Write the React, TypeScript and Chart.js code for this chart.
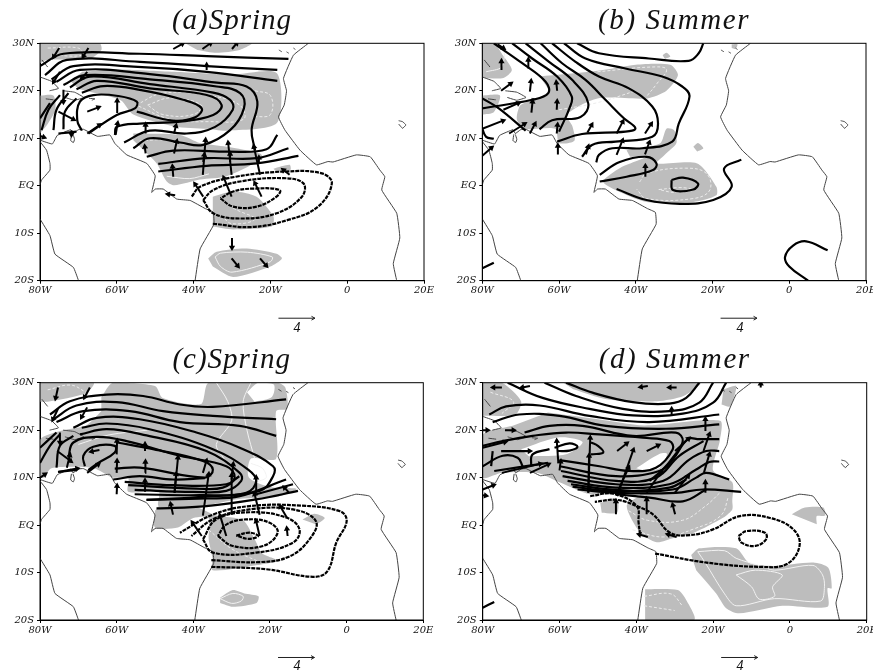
import React, { useEffect, useRef } from "react";
import { Chart, registerables } from "chart.js";
Chart.register(...registerables);

type P = [number, number];
type A = [number, number, number, number];

const xTickLabels: Record<number, string> = { "-80": "80W", "-60": "60W", "-40": "40W", "-20": "20W", 0: "0", 20: "20E" };
const yTickLabels: Record<number, string> = { 30: "30N", 20: "20N", 10: "10N", 0: "EQ", "-10": "10S", "-20": "20S" };

const coastlines: P[][] = [
  [[-80,-7],[-77.4,-10.5],[-76.1,-14.4],[-71.3,-17.2],[-70,-19.9],[-70,-20]],
  [[-80,9.3],[-78.3,7.5],[-77.4,4.7],[-77.4,3.3],[-79.6,1.2],[-80,0.2]],
  [[-80,9.6],[-76.8,8.8],[-75.5,10.6],[-72,11.8],[-71.4,11],[-70,11.8],[-68.7,11.9],[-65,10.4],[-61.8,10.7],[-60.5,8.9],[-57.4,6.5],[-52.2,4.7],[-50,2.1],[-50.9,-1.4],[-50,-0.7],[-47.9,-0.7],[-44.4,-2.8],[-40.9,-3.1],[-37,-4.8],[-34.9,-5.6],[-34.7,-8.1],[-38.3,-13.3],[-39.6,-19.9],[-39.7,-20]],
  [[-71.8,10.8],[-72,9.5],[-71.3,9.1],[-71,9.8],[-71.4,10.8]],
  [[-10.1,30],[-14,27.5],[-16.6,22.6],[-15.8,20],[-16.4,17],[-17.9,14.5],[-16.2,11.7],[-12.3,7.5],[-8,4.4],[-5,5.1],[-3.7,5],[2.4,6.5],[6,6.1],[8.5,3.3],[9.8,1.9],[9,-0.9],[12.9,-5.8],[13.7,-11],[12,-16.4],[12.9,-20]],
  [[13.4,13.7],[14.4,13.5],[15.3,12.8],[14.4,12.1],[13.4,13]],
  [[-80,22.9],[-77,22],[-75.2,20.5],[-77.5,20]],
  [[-74,20],[-71,19.7],[-68.6,18.6],[-71,18],[-73.5,18.6]],
  [[-67.2,18.4],[-65.7,18.3],[-66.5,18]],
  [[-78.5,18.3],[-76.5,18.1]],
  [[-79.5,26.5],[-78,25]],
  [[-17.8,28.6],[-17,28.2]],[[-15.8,28.2],[-15.2,27.9]],[[-14,29],[-13.5,28.7]],
];

const refArrow: A = [-17.9, -27.9, -8.4, -27.9];
const refArrowHead: P[] = [[-9.3, -27.5], [-8.4, -27.9], [-9.3, -28.3]];

/* ---------- panel a ---------- */
const aSolid: P[][] = [
  [[-80,25.2],[-73.9,27.8],[-54,27.8],[-36.6,27.3],[-15.3,26.7]],
  [[-78.7,23.3],[-73,26.5],[-54,26.1],[-36.6,25.2],[-18.2,24.4]],
  [[-77,22.4],[-71.3,25.2],[-55.7,25.1],[-36.6,24],[-18.2,22.1]],
  [[-75.7,21.9],[-69.6,24.4],[-51.4,23.5],[-34,21.7],[-26.2,20.9],[-23.4,17.7],[-24.9,11.7],[-24,7.5]],
  [[-73.9,21.2],[-68.3,23.3],[-51.4,22.4],[-34,20.9],[-27.9,19.5],[-26.9,16.3],[-30.5,11.7],[-37.5,8.6],[-43.5,9.1],[-51.4,10],[-55.7,7.9]],
  [[-72.2,20.7],[-67,23],[-51.4,21.4],[-34.9,19.6],[-30.5,18.1],[-29.8,16],[-34.4,12.4],[-41.8,11],[-51.4,11.6],[-58.1,9.1]],
  [[-70.5,20.3],[-65.2,22.1],[-51.4,20.5],[-36.6,19.1],[-32.7,17],[-34.9,14.9],[-43.5,13.5],[-54,13.1],[-60,12.4],[-60.5,10.7]],
  [[-69.1,19.6],[-63.5,21],[-54,20.2],[-42.7,18.1],[-37.9,16.3],[-39.6,14.4],[-45.3,13.7],[-54.8,15.6]],
  [[-67.4,11],[-60,14.9],[-55.3,16.3],[-54.8,17.7],[-59.6,18.9],[-66.1,19.1],[-69.6,17.7],[-70.3,13.8],[-69.1,11.6]],
  [[-79.6,11.7],[-77.8,16],[-74.8,19.1]],
  [[-80,14.2],[-77.4,17.4]],
  [[-76.5,11.7],[-75.7,16],[-72.6,19.5]],
  [[-73.9,11.9],[-73.5,15.6],[-70.5,18.4]],
  [[-75.2,11],[-70.5,11.4]],
  [[-52.2,6.1],[-45.3,7.4],[-31.4,7.2],[-21,7.7],[-18.2,10.7]],
  [[-49.2,4.6],[-36.6,5.8],[-23.6,5.8],[-15.3,7.9]],
  [[-49.2,3],[-36.6,4.2],[-23.6,4.7],[-12.7,6.3]],
];
const aDashed: P[][] = [
  [[-35,-8],[-25,-8.7],[-15.4,-7.2],[-7.6,-4.4],[-4,0.5],[-6.6,2.6],[-16,3],[-29,1.9],[-38.3,-0.2],[-40.5,-2.3]],
  [[-37.5,-3],[-34.9,-5.8],[-27.9,-6.9],[-18.4,-5.8],[-11.8,-2.3],[-11.4,0.5],[-16.6,1.6],[-27.9,0.9],[-34.9,-0.9],[-37.5,-3]],
  [[-33,-2.7],[-29.7,-4.4],[-23.6,-4.4],[-18.4,-2.3],[-17.6,-0.9],[-24.4,-0.6],[-29.7,-1.2],[-33,-2.7]],
];
const aShade: P[][] = [
  [[-80,30],[-64.5,30],[-64,28.6],[-67,26.8],[-78.3,26.5],[-80,25.8]],
  [[-42.2,30],[-24.9,30],[-28,28.6],[-34,28],[-39,28.6]],
  [[-69,24],[-60,24.5],[-45,24],[-30,23.4],[-18.3,23.7],[-18.3,13.2],[-31.4,11.6],[-36.6,12],[-45,12.5],[-55.7,15],[-59,18],[-68,20],[-70,20.5],[-72,22]],
  [[-80,19],[-76.5,19],[-76,16],[-78,13],[-80,11]],
  [[-55.7,11],[-43.5,10.7],[-38.3,9],[-31.4,8.2],[-22.7,6.8],[-22,5.8],[-31.4,2],[-38.3,1.3],[-45,0.1],[-47,0.9],[-49.6,4.7],[-53,7.5],[-55.7,9.6]],
  [[-19.2,3.6],[-15,4.4],[-14.8,3.3],[-18.5,3]],
  [[-35,-2.3],[-29.7,-1.2],[-23.6,-2.3],[-19.2,-6.5],[-19.7,-8.6],[-29.7,-9.2],[-35,-8.6]],
  [[-36.2,-15.3],[-34,-13.9],[-26.2,-13.2],[-18.4,-14.3],[-17,-15.3],[-20,-17],[-29.7,-19.2],[-35,-17]],
];
const aPale: P[][] = [
  [[-34.4,-15],[-33,-14.2],[-26,-14],[-19.5,-15],[-20,-16],[-30,-18.2],[-33,-17],[-34.4,-15]],
  [[-47,2],[-41,1.5],[-36,2.5]],
];
const aPaleDash: P[][] = [
  [[-55,17],[-48,19.5],[-36,19],[-28,17],[-27,14],[-36,13.5],[-46,14],[-55,17]],
  [[-52,17],[-46,18.5],[-38,17],[-40,15],[-48,15],[-52,17]],
  [[-24,20],[-20,19],[-20,15],[-24,14.5]],
  [[-78,29],[-70,29],[-69,27.5],[-77,27.5]],
  [[-54,9.5],[-46,9.5],[-44,8]],
  [[-33,-3],[-29,-5],[-24,-7],[-30,-8],[-33,-6]],
];
const aArrows: A[] = [
  [-45.3,28.8,-42.9,29.9],[-37.7,28.8,-35.6,30],[-30,28.8,-28.8,30],[-75,29,-76.4,27.2],[-67.4,29,-68.7,27.3],
  [-36.6,24.4,-36.6,25.4],[-74.8,24,-76.4,21.9],[-67.7,24,-69.1,22.6],[-73.9,20.2,-73.9,17.7],[-75.2,15.6,-71.3,14],
  [-67.7,15.6,-64.8,16.5],[-59.9,15.3,-59.9,17.9],[-67.7,11,-64.5,12.8],[-60.3,10.7,-59.8,13.1],[-52.5,11,-52.5,12.8],
  [-45.1,11,-44.6,12.6],[-45.1,6.8,-44.4,9.3],[-52.5,6.8,-52.7,8.2],[-37.6,2.3,-36.9,9.6],[-30.1,2.3,-31,9],
  [-22.7,2.3,-24.3,8.2],[-45.3,1.9,-45.5,4],[-37.5,-2.3,-39.6,0.3],[-30.1,-2.3,-32.1,1.6],[-22.3,-2.3,-24,0.5],
  [-15,2.3,-16.6,3.3],[-44.8,-2,-46.6,-1.8],[-30,-11,-30,-13],[-30.1,-15.3,-28.5,-16.9],[-22.7,-15.3,-21.1,-16.8],
  [-71.8,11.7,-71.8,10.8],[-80,10.5,-79,10.2],
  [-37.5,5,-37.2,6.5],[-30.5,5,-30.5,6.7],[-23,5,-23,5.9],
];

/* ---------- panel b ---------- */
const bSolid: P[][] = [
  [[-55.3,30],[-49.6,27.9],[-36.6,26.8],[-26.2,26.3],[-23.6,27.9],[-22.4,30]],
  [[-58.7,30],[-53.1,26.8],[-42.7,24.7],[-33.1,23],[-27.9,20.9],[-26,18.8],[-28.8,13.1],[-30.5,9.3],[-38.3,7.9],[-46.1,7.9],[-49.6,6.5],[-50.3,4.9]],
  [[-61.8,30],[-55.7,26.1],[-49.6,23],[-41.8,20.5],[-35.7,16.7],[-34.2,13.1],[-35.7,10.3],[-45.3,9.3],[-51.4,8.6],[-54,6.1]],
  [[-64.8,30],[-59.2,25.8],[-53.1,22.3],[-47.9,18.1],[-43.1,14.2],[-40.1,12.1],[-42.7,11.4],[-54,10.9],[-60.5,9.3]],
  [[-68.7,30],[-62.6,26.1],[-56.6,22.3],[-52.4,17.4],[-54.4,14.5],[-61.8,13.8],[-65.1,11.9]],
  [[-72.2,30],[-67,26.8],[-60.5,23],[-56.7,18.8],[-57.3,16.3],[-60,11.4]],
  [[-77,30],[-69.6,25.8],[-63.5,21.9],[-62.8,19.5],[-67,18.1],[-80,16.3]],
  [[-80,18.4],[-75.7,16.3],[-68.7,11.6]],
  [[-80,12],[-79,10.3],[-77,9.9]],
  [[-49.4,2.3],[-44.2,5],[-37.2,6.1],[-34.6,4.7],[-35.5,3.3],[-42.4,1.9],[-49.4,0.9]],
  [[-45,-0.7],[-37.2,-3],[-28.5,-3.8],[-19.8,-3],[-15,-0.2],[-17,3.6],[-12.5,5.5]],
  [[-30.7,1.2],[-27.7,1.7],[-23.8,0.5],[-25,-0.8],[-30.3,-0.9],[-30.7,1.2]],
  [[10,-13.6],[4.4,-11.7],[1,-12.6],[-1.1,-15],[0,-17],[4.9,-20]],
  [[-80,-17.4],[-77,-16.2]],
];
const bDashed: P[][] = [];
const bShade: P[][] = [
  [[-80,30],[-77,30],[-74.5,27.3],[-72.3,24.4],[-74.5,22.7],[-80,22.7]],
  [[-65,23],[-50,24.2],[-40,25.5],[-31,25.5],[-29,23.3],[-32,20],[-37,18.4],[-50,18.4],[-58,15],[-56.5,12.5],[-56,9.5],[-60,9],[-61,12],[-69,12],[-71,14],[-70,17],[-65,18.5],[-62.5,20]],
  [[-80,19],[-75.4,19],[-77,15.5],[-80,15]],
  [[-42.4,7.5],[-33.7,8.9],[-32,12],[-30,11.7],[-29.4,9],[-32.5,6.5],[-34.6,4.7],[-24,4.7],[-19,-0.2],[-19,-2],[-25,-3.4],[-37.2,-3.4],[-45,-1],[-48.5,0.9],[-44,3.8],[-37.2,6.1],[-41.5,6.1]],
  [[-25,8.2],[-23.8,9],[-22.4,7.9],[-24,7.2]],
  [[-33,27.5],[-32,28],[-31,27.2],[-32.4,26.7]],
  [[-15,29.8],[-13.5,29.8],[-14,28.8],[-15,29]],
];
const bPale: P[][] = [
  [[-74,29],[-75,25],[-79,24]],
];
const bPaleDash: P[][] = [
  [[-39,0.8],[-37.2,2.6],[-27,3.7],[-21.6,2.6],[-20.7,-0.9],[-25,-2.7],[-37.2,-2.7],[-39.8,-0.7]],
  [[-34,-0.8],[-28,-0.4],[-25,-0.9],[-30,-1.4],[-34,-0.8]],
  [[-60,16],[-50,17.5],[-40,20]],
  [[-50,24],[-36,25],[-32,24.5],[-34.5,21.5],[-37,19]],
];
const bArrows: A[] = [
  [-75,24.4,-75,26.2],[-68,24.7,-68,26.5],[-75.1,20,-72.6,21.5],[-67.6,19.8,-67.3,22],[-60.5,20,-60.7,21.7],
  [-60.6,16,-60.5,17.7],[-67.2,15.4,-66.9,17.7],[-74.5,16,-70.6,17.4],[-80,12,-74.6,13.7],[-73,11,-69,13],
  [-67.6,11,-66.3,13],[-60.6,11,-60.4,12.8],[-52.6,11.2,-51.5,12.8],[-45,11,-43.4,13.5],[-37.6,11,-36,13],
  [-45,6.5,-43.5,9.5],[-37.6,6.6,-36.5,9.1],[-53,6.6,-52.4,8.2],[-60.3,6.6,-60.3,8.4],[-37.5,1.9,-37.5,4.1],
  [-80,6.3,-77.6,8],[-76,29.8,-74.5,29],
];

/* ---------- panel c ---------- */
const cSolid: P[][] = [
  [[-77.4,23.3],[-72.2,26.1],[-62.6,27.5],[-53.1,27.2],[-43.5,25.4],[-34.9,24.9],[-15.8,26.5]],
  [[-76.5,22.3],[-70.5,25.2],[-60,25.9],[-47.9,24],[-34.9,23],[-18.4,22.3]],
  [[-75.7,21.7],[-68.7,24],[-56.6,24],[-43.5,21.7],[-27.9,20.9],[-18.4,18.8]],
  [[-71.3,20.5],[-65.2,22.6],[-54,22.3],[-39.2,19.5],[-27.9,16.3],[-19.2,12.4],[-19.2,10.3],[-22.7,7.2],[-36.6,6],[-52.2,5.3]],
  [[-69.1,20.5],[-62.6,21.4],[-51.4,20.2],[-34.9,16],[-25.7,11.7],[-23.6,9.3],[-26.2,6.8],[-38.3,6.3],[-55.3,6.5]],
  [[-69.6,19.1],[-62.6,20.2],[-52.2,18.9],[-36.6,15.6],[-27.9,11],[-27.5,9.3],[-31.4,7.2],[-40,7],[-55.3,7.4]],
  [[-72.6,14.2],[-71.3,17.4],[-65.2,18.6],[-57.4,17.7],[-43.5,14.6],[-31.4,12.4],[-29.2,10],[-32.3,7.9],[-39.2,7.7],[-57,8.4]],
  [[-59.9,17.4],[-50.5,16],[-37.5,13.5],[-34.9,11.7],[-37,10],[-53.9,12.1],[-60.5,11.9]],
  [[-67.4,11.6],[-64.8,13.1],[-60.5,15.3],[-60.5,16.7],[-66.1,16.5],[-68.7,14.6],[-68.3,12.4]],
  [[-60.9,9.6],[-54,10.3],[-45.3,9.6],[-37,9.9]],
  [[-57.9,9.1],[-45.3,8.4],[-31.4,8.6],[-28,10.3]],
  [[-52.2,5.3],[-36.6,5.6],[-27.9,6.1],[-15.8,9.6]],
  [[-23.6,6.5],[-14,8.6]],
  [[-49.6,3.5],[-36.6,4],[-23.6,5.4],[-12.7,7.2]],
  [[-80,16.3],[-75.7,19.5]],
  [[-80,13.1],[-77.4,16.7],[-74.8,19.1]],
  [[-75.7,12.1],[-74.8,16.7],[-71.3,18.8]],
  [[-75.2,11.2],[-70.5,11.6]],
];
const cDashed: P[][] = [
  [[-35.3,-8.8],[-21,-9.3],[-8.8,-10.9],[-5,-9.7],[-2.7,-3.7],[0,0.8],[-1.7,2.9],[-12,4.1],[-25.3,4],[-34.9,2.2],[-43.5,-1.6]],
  [[-35.3,-7.4],[-22.7,-7.8],[-14.9,-6.6],[-9.7,-3],[-8,0.8],[-14,3.3],[-25.3,3.3],[-34.9,1.2],[-40.5,-2.3]],
  [[-37.5,-3],[-34.9,-5.8],[-23.6,-5.8],[-14,-3.7],[-12.3,-0.9],[-15.8,1.6],[-25.3,2.7],[-34,1.2],[-37.5,-3]],
  [[-33.6,-2.3],[-29.7,-4.4],[-21.8,-4.4],[-18,-1.6],[-20.1,0.5],[-26.2,1.2],[-31.4,0.1],[-33.6,-2.3]],
  [[-28.8,-2.2],[-25.3,-1.6],[-23.1,-2.3],[-25.7,-2.9],[-28.8,-2.2]],
];
const cShade: P[][] = [
  [[-80,30],[-66,30],[-68,27.8],[-78,26],[-80,26]],
  [[-64,27],[-61,30],[-50,29.3],[-48,26.8],[-38,25.5],[-36,30],[-18,30],[-16,29],[-15.5,24.5],[-18.4,24],[-18.4,14],[-25,14],[-25.5,10],[-20,8],[-13,7.6],[-18,6],[-28,5.5],[-38,4],[-49,4],[-49,7],[-57,7],[-57,10],[-61,10],[-66,12],[-77,12],[-79,10],[-80,10],[-80,18],[-74,20],[-68,21],[-64,24]],
  [[-50,3],[-50,-0.5],[-44,-0.5],[-40,1.5],[-36,1.5],[-36,-3],[-35,-7],[-35,-9.5],[-24,-8.5],[-18,-7.5],[-22,-6],[-24,-3],[-27,1],[-34,2],[-40,4],[-49,4]],
  [[-11.5,1.2],[-8.4,2.4],[-5.7,1.5],[-7.9,0.1]],
  [[-33,-15.3],[-29.7,-13.7],[-26.7,-14.4],[-23,-15],[-23.5,-16.4],[-29.7,-17.2],[-33,-16.4]],
];
const cHoles: P[][] = [
  [[-26,28],[-23,30],[-19,29.6],[-19.5,27],[-24,26]],
];
const cPale: P[][] = [
  [[-33,-15.5],[-29.7,-14.4],[-27,-15],[-27.5,-16],[-30,-16.5],[-33,-15.5]],
  [[-70,17],[-62,19],[-52,20]],
  [[-34,30],[-31,26],[-30,22],[-34,17],[-32,14],[-30,12]],
  [[-25,30],[-27,26],[-26,20],[-24,14]],
  [[-25,13],[-22,12],[-21,10],[-24,9]],
];
const cPaleDash: P[][] = [
  [[-78,28.5],[-72,29.5],[-68,28]],
  [[-36,-1],[-30,-5],[-22,-8]],
];
const cArrows: A[] = [
  [-75.3,29,-75.9,26.8],[-67,29,-68.3,27],[-67.7,24.8,-69.1,22.8],[-75.3,24.5,-76.6,22.3],[-75.5,15.6,-72,13.5],
  [-74.8,19.5,-74.8,17.4],[-73,12.1,-72.2,14.7],[-75.3,11.2,-70.3,11.9],[-67.7,11,-64.8,12.8],[-64.5,15.8,-66.5,15.5],
  [-60,14.9,-59.9,17.7],[-60,11,-59.9,13.5],[-52.6,15.6,-52.6,17],[-52.6,11,-52.5,13.3],[-44.9,6.8,-44.5,10.7],
  [-44.9,6.8,-44,14.2],[-37.5,11,-36.6,13.5],[-37.5,2,-36,10.7],[-30,2.2,-30,10.5],[-30,9.6,-29.6,12.8],
  [-22.7,2.2,-24,6.5],[-23.6,6.8,-23.6,10],[-52.6,7,-52.6,9.3],[-60,6.5,-59.9,8.2],[-45.3,2.2,-45.9,4.4],
  [-37.8,-2.3,-40.2,0.5],[-31.4,-2.3,-33,2],[-22.7,-2.3,-23.6,0.8],[-15.6,1.6,-17.3,3.9],[-15.4,-2.3,-15.6,-0.8],
  [-15,6.8,-16.2,7.9],[-80,10,-78.7,10.7],
];

/* ---------- panel d ---------- */
const dSolid: P[][] = [
  [[-58.3,30],[-51.4,27.9],[-40.9,25.9],[-31.4,25.6],[-27,26.8],[-23.6,30]],
  [[-63.9,30],[-55.7,27.2],[-43.5,24.5],[-31.4,24],[-23.6,25.8],[-20,30]],
  [[-73.5,30],[-64.4,26.8],[-52.2,24.5],[-40.9,23.1],[-27.9,23.5],[-20,25.8],[-16.6,30]],
  [[-78.3,23.3],[-73.9,25],[-65.2,25.2],[-52.2,23],[-36.6,21.7],[-18.4,23.3]],
  [[-77.4,21.7],[-70.5,23.3],[-60,23],[-47.9,20.9],[-32.3,20.3],[-18.4,21.2]],
  [[-69.1,19.5],[-62.6,20.9],[-54,20.9],[-40.9,18.8],[-29.7,19.5],[-27.9,17.7],[-30.5,14.2],[-33.1,11.7],[-36.6,9.3]],
  [[-80,16.7],[-74.8,17.7],[-67,18.8],[-58.3,19.5],[-49.6,19.1],[-38.3,18.4],[-31.4,17.7],[-30.5,16],[-34.9,12.1],[-41.8,11.4],[-49.6,12.4],[-60,13.7]],
  [[-60,12.4],[-45.3,10.3],[-34,11.4],[-30.5,13.8],[-26.6,18.1],[-23.6,18.1],[-18.4,18.1]],
  [[-59.6,11.4],[-45.3,9.3],[-34.9,10],[-28.8,14.6],[-22.5,17.7]],
  [[-59.2,10.3],[-45.3,8.6],[-33.1,9.3],[-26.2,13.8],[-21.8,15.6],[-18.4,15.6]],
  [[-57.9,9.3],[-45.3,7.9],[-31.4,8.6],[-24.4,11.7],[-21,13.3],[-18.4,13.4]],
  [[-57,8.6],[-45.3,7.4],[-30.5,7.5],[-24.4,10],[-21.8,11],[-15.8,9.6]],
  [[-56.6,8.1],[-45.3,7.1],[-31.4,7.9],[-27,9.6]],
  [[-55.3,7.5],[-45.3,6.8],[-29.7,6.8],[-22.7,7.5],[-12.7,7]],
  [[-45.3,6.5],[-36.6,5.8],[-27.9,5],[-21.8,7.5]],
  [[-61.3,16.3],[-57.4,17.2],[-55.3,16.5],[-57.4,15.7],[-60.5,15.6]],
  [[-51.8,14.9],[-48.6,15.3],[-50,16.7],[-51.8,17.4]],
  [[-75.2,15.6],[-67.8,15.6]],
  [[-67.4,12.4],[-67,14.9],[-62.6,16]],
  [[-80,12.4],[-74.8,14.6],[-70.9,14.2],[-69.6,12.4]],
  [[-77.4,15.6],[-77.8,12.4]],
  [[-77,11.4],[-63,13.1]],
  [[-80,-17.4],[-77,-16.2]],
];
const dDashed: P[][] = [
  [[-35.1,-6],[-21.7,-7.9],[-7.8,-8.8],[-0.8,-8.2],[2.5,-4.4],[0.9,-0.9],[-5.2,1.5],[-13,1.9],[-20,-0.9],[-26,-2.1],[-31.2,-1.6],[-35.6,2.2],[-39.9,4],[-45,5.3],[-50.8,4.9]],
  [[-52,6.1],[-46,6.6],[-39.9,4],[-39.4,0.5],[-39,-2.2]],
  [[-13.4,-2.3],[-11.2,-1.25],[-6.5,-1.6],[-6.2,-3],[-9,-4.4],[-12.6,-3.7],[-13.4,-2.3]],
];
const dShade: P[][] = [
  [[-80,30],[-75,30],[-70,26.1],[-71.5,23.3],[-80,23]],
  [[-59,30],[-23.4,30],[-27.7,27.2],[-34.6,26.1],[-47.7,26.5],[-56.4,28.6]],
  [[-63,23.7],[-50,22.3],[-38,21],[-18.2,22],[-18.2,18],[-20,11.5],[-15,9],[-15,5],[-15,3.3],[-17.3,1.6],[-25,-1.6],[-30.3,-2.7],[-34.7,-3.6],[-39,-1.6],[-42.5,4],[-39,6.5],[-52,6.5],[-60,9],[-66,11],[-75,11],[-80,10],[-80,19],[-72,21]],
  [[-25.7,-6.3],[-23.6,-4.9],[-14,-4.9],[-10.6,-8],[-4.3,-8.6],[6.1,-7.9],[10,-9],[10.9,-13.3],[9.8,-13.3],[9.8,-17.2],[-2,-17],[-13.2,-18.6],[-16.6,-17.5],[-19.2,-14.4],[-24.4,-9.5]],
  [[-37.7,-13.5],[-29.2,-13.7],[-27,-15.8],[-24.9,-20],[-37.7,-20]],
  [[0.5,2.3],[3.9,3.7],[8.7,3.7],[9.2,2],[7,1.9],[7,0.2]],
  [[-17.3,28.6],[-14,29.3],[-15.6,25],[-17.8,25.4]],
  [[-49.4,4.7],[-45,5.4],[-45,2.6],[-49,2.6]],
];
const dHoles: P[][] = [
  [[-70,16],[-60,18.5],[-54,17.5],[-58,15],[-68,14.5]],
  [[-40,12],[-34,15],[-32,15],[-34,12],[-38,11.5]],
];
const dPale: P[][] = [
  [[-24,-5.6],[-17,-5.4],[-14,-7],[-8,-8.5],[-4,-9.5],[6,-8.5],[8.5,-10.5],[9,-13],[8,-16],[-4,-15.5],[-14,-17],[-17,-14.5],[-22,-8],[-24,-5.6]],
  [[-14,-10.5],[-9,-9.5],[-2,-10.5],[-4.5,-13],[-4,-15],[-8,-15.6],[-10,-13],[-14,-10.5]],
];
const dPaleDash: P[][] = [
  [[-42,3],[-37,1],[-28,1],[-22,4],[-18,7]],
  [[-41,-1],[-33,-2.5],[-25,-0.8],[-18,2],[-16,6]],
  [[-38,-15],[-31,-14.5],[-28,-17]],
  [[-38,-17],[-30,-18]],
  [[-78,28],[-72,26],[-75,23.5]],
];
const dArrows: A[] = [
  [-75,29,-77.2,29],[-67.7,29.3,-69.7,29],[-37,29.3,-38.8,29.1],[-29.5,29,-31.3,29],[-7.6,29,-7.6,29.8],
  [-30.8,23.3,-30.8,24.4],[-22,19.8,-22,22.3],[-22.5,15.6,-21,19.1],[-22.4,11,-21,14.9],[-22,6.8,-22,9],
  [-29.9,15.6,-26.4,18.2],[-37.3,15.6,-34.3,16.8],[-45,15.6,-42.5,17.2],[-52.5,6.8,-52,18.4],[-45,6.1,-40.8,15.8],
  [-45.3,2.3,-45.3,5],[-37.3,2.3,-37.3,5.4],[-29.9,2.3,-30.5,4.2],[-37,-2.5,-39.2,-2],[-29.5,-2.5,-31.7,-2],
  [-37.3,6.8,-33.4,11.4],[-45,6.8,-42,12.1],[-75,11,-65,12.9],[-75,15.6,-67.8,15.6],[-67.7,11,-62.9,12.8],
  [-80,16.3,-74.2,17.5],[-80,20,-78.8,20],[-74.2,20,-72,20],[-60.3,13,-60.7,17.7],[-60,11.5,-59.7,13.4],
  [-80,7.5,-77.2,8.4],[-30,6.8,-26.5,10.3],[-80,6.3,-79.2,6.2],[-52.5,6.8,-52.3,14.6],
];

const panels = [
  { title: "(a)Spring", left: 0, top: 0, w: 436, solid: aSolid, dashed: aDashed, shade: aShade, holes: [] as P[][], pale: aPale, paleDash: aPaleDash, arrows: aArrows, plotL: 40, plotR: 424, plotT: 43.3, plotB: 280.7, titleY: 3, noteX: 297, noteY: 320 },
  { title: "(b) Summer", left: 440, top: 0, w: 440, solid: bSolid, dashed: bDashed, shade: bShade, holes: [] as P[][], pale: bPale, paleDash: bPaleDash, arrows: bArrows, plotL: 42.3, plotR: 426, plotT: 43.3, plotB: 280.7, titleY: 3, noteX: 300, noteY: 320 },
  { title: "(c)Spring", left: 0, top: 336, w: 436, solid: cSolid, dashed: cDashed, shade: cShade, holes: cHoles, pale: cPale, paleDash: cPaleDash, arrows: cArrows, plotL: 40, plotR: 423.3, plotT: 46.7, plotB: 284, titleY: 6, noteX: 297, noteY: 322 },
  { title: "(d) Summer", left: 440, top: 336, w: 440, solid: dSolid, dashed: dDashed, shade: dShade, holes: dHoles, pale: dPale, paleDash: dPaleDash, arrows: dArrows, plotL: 42.7, plotR: 426.7, plotT: 46.7, plotB: 284, titleY: 6, noteX: 300, noteY: 322 },
];

const GREY = "#bdbdbd";
const panelH = 336;

function line(data: P[], o: any) {
  return { data, showLine: true, pointRadius: 0, pointHoverRadius: 0, fill: false, ...o };
}

function arrowDataset(a: A, plotW: number, plotH: number, o: any = {}) {
  const dx = ((a[2] - a[0]) * plotW) / 100;
  const dy = ((a[3] - a[1]) * plotH) / 50;
  const rot = (Math.atan2(dx, dy) * 180) / Math.PI;
  return {
    data: [[a[0], a[1]], [a[2], a[3]]] as P[],
    showLine: true,
    borderColor: "#000",
    backgroundColor: "#000",
    borderWidth: 2,
    pointBorderWidth: 0,
    pointBackgroundColor: "#000",
    pointStyle: "triangle",
    pointRadius: [0, 3.6],
    pointRotation: [0, rot],
    order: 1,
    ...o,
  };
}

const framePlugin = {
  id: "frame",
  afterDatasetsDraw(chart: any) {
    const { ctx, chartArea: c } = chart;
    ctx.save();
    ctx.strokeStyle = "#000";
    ctx.lineWidth = 1;
    ctx.strokeRect(c.left, c.top, c.right - c.left, c.bottom - c.top);
    ctx.restore();
  },
};

function Panel({ p }: { p: (typeof panels)[number] }) {
  const ref = useRef<HTMLCanvasElement>(null);
  useEffect(() => {
    const plotW = p.plotR - p.plotL;
    const plotH = p.plotB - p.plotT;
    const datasets: any[] = [
      ...p.arrows.map((a) => arrowDataset(a, plotW, plotH)),
      line([[refArrow[0], refArrow[1]], [refArrow[2], refArrow[3]]], { borderColor: "#222", borderWidth: 1, clip: false, order: 1 }),
      line(refArrowHead, { borderColor: "#222", borderWidth: 1, clip: false, order: 1 }),
      ...p.solid.map((d) => line(d, { borderColor: "#000", borderWidth: 2.2, tension: 0.4, order: 2 })),
      ...p.dashed.map((d) => line(d, { borderColor: "#000", borderWidth: 2.2, borderDash: [4, 1], tension: 0.4, order: 2 })),
      ...coastlines.map((d) => line(d, { borderColor: "#444", borderWidth: 1, tension: 0.1, order: 3 })),
      ...p.pale.map((d) => line(d, { borderColor: "#f2f2f2", borderWidth: 1, tension: 0.3, order: 4 })),
      ...p.paleDash.map((d) => line(d, { borderColor: "#ececec", borderWidth: 1, borderDash: [3, 2], tension: 0.4, order: 4 })),
      ...p.holes.map((d) => line(d, { borderColor: "#fff", backgroundColor: "#fff", borderWidth: 0, fill: "shape", tension: 0.3, order: 5 })),
      ...p.shade.map((d) => line(d, { borderColor: GREY, backgroundColor: GREY, borderWidth: 0, fill: "shape", tension: 0.25, order: 6 })),
    ];
    const tickFont = { family: "'DejaVu Serif'", size: 10, style: "italic" as const };
    const chart = new Chart(ref.current!, {
      type: "scatter",
      data: { datasets },
      plugins: [framePlugin],
      options: {
        animation: false,
        responsive: false,
        layout: { padding: { left: 0, right: p.w - p.plotR, top: p.plotT, bottom: 0 } },
        plugins: { legend: { display: false }, tooltip: { enabled: false } },
        scales: {
          x: {
            type: "linear",
            min: -80,
            max: 20,
            grid: { display: true, drawOnChartArea: false, tickLength: 3, tickColor: "#000" },
            border: { color: "#000" },
            ticks: {
              stepSize: 20,
              autoSkip: false,
              maxRotation: 0,
              padding: 1,
              color: "#111",
              font: tickFont,
              callback: (v: any) => xTickLabels[v] ?? "",
            },
            afterFit: (s: any) => { s.height = panelH - p.plotB; s.paddingLeft = 0; s.paddingRight = 0; },
          },
          y: {
            type: "linear",
            min: -20,
            max: 30,
            grid: { display: true, drawOnChartArea: false, tickLength: 3, tickColor: "#000" },
            border: { color: "#000" },
            ticks: {
              stepSize: 10,
              autoSkip: false,
              padding: 3,
              color: "#111",
              font: tickFont,
              callback: (v: any) => yTickLabels[v] ?? "",
            },
            afterFit: (s: any) => { s.width = p.plotL; s.paddingTop = 0; s.paddingBottom = 0; },
          },
        },
      } as any,
    });
    return () => chart.destroy();
  }, []);
  const cx = (p.plotL + p.plotR) / 2;
  const serif = "'Liberation Serif', serif";
  return (
    <div style={{ position: "absolute", left: p.left, top: p.top, width: p.w, height: panelH }}>
      <canvas ref={ref} width={p.w} height={panelH} style={{ position: "absolute", left: 0, top: 0, display: "block" }} />
      <div style={{ position: "absolute", left: cx - 120, width: 240, top: p.titleY, textAlign: "center", font: `italic 29px ${serif}`, letterSpacing: p.title.includes("Summer") ? "1.6px" : "1px", color: "#111", whiteSpace: "pre" }}>{p.title}</div>
      <div style={{ position: "absolute", left: p.noteX - 10, width: 20, top: p.noteY, textAlign: "center", font: `italic 14px ${serif}`, color: "#111" }}>4</div>
    </div>
  );
}

export default function App() {
  return (
    <div style={{ position: "fixed", left: 0, top: 0, width: 873, height: 672, overflow: "hidden", background: "#fff" }}>
      {panels.map((p) => <Panel key={p.title} p={p} />)}
    </div>
  );
}
